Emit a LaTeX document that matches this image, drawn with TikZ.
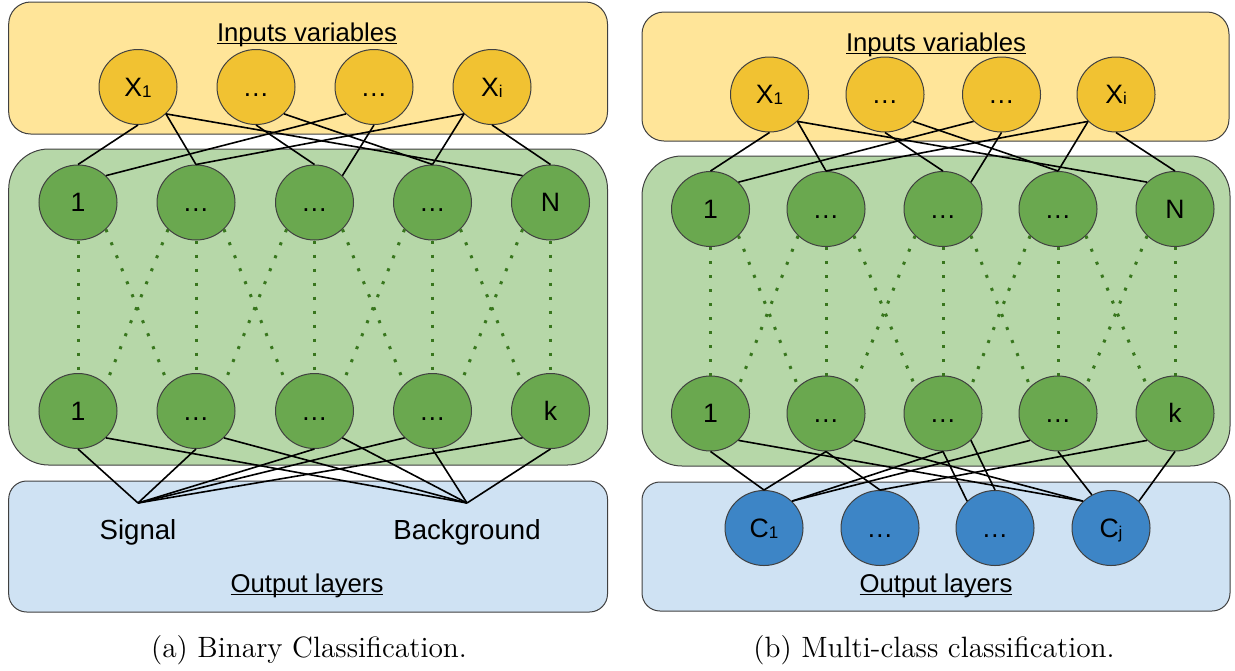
\documentclass[tikz,border=0pt]{standalone}
\usepackage{fontspec}
\newfontfamily\arialf{Liberation Sans}
\usetikzlibrary{shapes.geometric}
\definecolor{ybox}{HTML}{FFE599}
\definecolor{ynode}{HTML}{F1C232}
\definecolor{gbox}{HTML}{B6D7A8}
\definecolor{gnode}{HTML}{6AA84F}
\definecolor{gdot}{HTML}{38761D}
\definecolor{bbox}{HTML}{CFE2F3}
\definecolor{bnode}{HTML}{3D85C6}
\definecolor{edgecol}{HTML}{404040}
\newcommand{\myul}[1]{\setbox0\hbox{#1}\rlap{\rule[-1.6pt]{\wd0}{0.75pt}}\box0}
\newcommand{\sbs}[1]{{\fontsize{8.5}{8.5}\selectfont\raisebox{-0.6pt}{#1}}}
\tikzset{
  panel/.style={draw=edgecol, line width=0.5pt},
  neuron/.style={ellipse, draw=black!75, line width=0.5pt, minimum width=39pt, minimum height=37.5pt,
     inner sep=0pt, font=\arialf\fontsize{13.3}{14}\selectfont, text height=9.5pt, text depth=0.5pt},
  inn/.style={neuron, fill=ynode},
  hid/.style={neuron, fill=gnode},
  outn/.style={neuron, fill=bnode},
  link/.style={draw=black, line width=0.8pt},
  dotlink/.style={draw=gdot, line width=1.5pt, line cap=butt, dash pattern=on 1.5pt off 5.5pt},
  title/.style={anchor=base, inner sep=0pt, font=\arialf\fontsize{12.85}{14}\selectfont},
  outlabel/.style={anchor=base, inner sep=0pt, font=\arialf\fontsize{13.8}{15}\selectfont},
  caption/.style={anchor=base, inner sep=0pt, font=\fontsize{14.7}{17}\selectfont}
}
\begin{document}
\begin{tikzpicture}[x=0.5pt,y=-0.5pt]
\useasboundingbox (0,0) rectangle (1235,670);
% ================= LEFT PANEL =================
\draw[panel, fill=ybox, rounded corners=11pt] (8.7,2) rectangle (607.5,134);
\draw[panel, fill=gbox, rounded corners=20pt] (8.7,149) rectangle (607.5,465);
\draw[panel, fill=bbox, rounded corners=9pt] (8.7,481) rectangle (607.5,612);
\node[title] (ainT) at (307,41) {\myul{Inputs variables}};
\node[title] (aoutT) at (307,592) {\myul{Output layers}};
\node[caption] (capa) at (309,657) {(a) Binary Classification.};
% inputs
\node[inn] (ax1) at (138,87) {X\sbs{1}};
\node[inn] (ax2) at (256,87) {…};
\node[inn] (ax3) at (374,87) {…};
\node[inn] (ax4) at (492,87) {X\sbs{i}};
% hidden
\foreach \i/\x/\t/\b in {1/78/1/1, 2/196/…/…, 3/314.5/…/…, 4/432.5/…/…, 5/550.5/N/k}{
  \node[hid] (at\i) at (\x,202.5) {\t};
  \node[hid] (ab\i) at (\x,411) {\b};
}
% outputs
\node[outlabel] (asig) at (138,539) {Signal};
\node[outlabel] (abkg) at (467,539) {Background};
\coordinate (asigp) at (138,503);
\coordinate (abkgp) at (467,503);
% dotted
\foreach \i in {1,...,5}{ \draw[dotlink] (at\i.south) -- (ab\i.north); }
\foreach \i/\j in {1/2,2/3,3/4,4/5}{
  \draw[dotlink] (at\i.south east) -- (ab\j.north west);
  \draw[dotlink] (at\j.south west) -- (ab\i.north east);
}
% input links
\draw[link] (ax1.south) -- (at1.north);
\draw[link] (ax1.south east) -- (at2.north);
\draw[link] (ax1.south east) -- (at5.north west);
\draw[link] (ax2.south) -- (at3.north);
\draw[link] (ax2.south east) -- (at4.north);
\draw[link] (ax3.south west) -- (at1.north east);
\draw[link] (ax3.south) -- (at3.north east);
\draw[link] (ax4.south west) -- (at2.north);
\draw[link] (ax4.south west) -- (at4.north);
\draw[link] (ax4.south) -- (at5.north);
% output links
\draw[link] (ab1.south) -- (asigp);
\draw[link] (ab2.south) -- (asigp);
\draw[link] (ab3.south) -- (asigp);
\draw[link] (ab4.south west) -- (asigp);
\draw[link] (ab5.south west) -- (asigp);
\draw[link] (ab1.south east) -- (abkgp);
\draw[link] (ab2.south east) -- (abkgp);
\draw[link] (ab3.south east) -- (abkgp);
\draw[link] (ab4.south) -- (abkgp);
\draw[link] (ab5.south) -- (abkgp);
% ================= RIGHT PANEL =================
\draw[panel, fill=ybox, rounded corners=11pt] (642,12) rectangle (1229,141);
\draw[panel, fill=gbox, rounded corners=20pt] (642,156) rectangle (1230,466);
\draw[panel, fill=bbox, rounded corners=9pt] (642,482) rectangle (1230,611);
\node[title] (binT) at (936,51) {\myul{Inputs variables}};
\node[title] (boutT) at (936,592) {\myul{Output layers}};
\node[caption] (capb) at (934,657) {(b) Multi-class classification.};
\node[inn] (bx1) at (769.5,94.5) {X\sbs{1}};
\node[inn] (bx2) at (885,94.5) {…};
\node[inn] (bx3) at (1001.5,94.5) {…};
\node[inn] (bx4) at (1116,94.5) {X\sbs{i}};
\foreach \i/\x/\t/\b in {1/710.5/1/1, 2/826/…/…, 3/943/…/…, 4/1058/…/…, 5/1175/N/k}{
  \node[hid] (bt\i) at (\x,209) {\t};
  \node[hid] (bb\i) at (\x,413.5) {\b};
}
\node[outn] (bc1) at (764,528) {C\sbs{1}};
\node[outn] (bc2) at (880,528) {…};
\node[outn] (bc3) at (995,528) {…};
\node[outn] (bc4) at (1111,528) {C\sbs{j}};
\foreach \i in {1,...,5}{ \draw[dotlink] (bt\i.south) -- (bb\i.north); }
\foreach \i/\j in {1/2,2/3,3/4,4/5}{
  \draw[dotlink] (bt\i.south east) -- (bb\j.north west);
  \draw[dotlink] (bt\j.south west) -- (bb\i.north east);
}
\draw[link] (bx1.south) -- (bt1.north);
\draw[link] (bx1.south east) -- (bt2.north);
\draw[link] (bx1.south east) -- (bt5.north west);
\draw[link] (bx2.south) -- (bt3.north);
\draw[link] (bx2.south east) -- (bt4.north);
\draw[link] (bx3.south west) -- (bt1.north east);
\draw[link] (bx3.south) -- (bt3.north east);
\draw[link] (bx4.south west) -- (bt2.north);
\draw[link] (bx4.south west) -- (bt4.north);
\draw[link] (bx4.south) -- (bt5.north);
% hidden to classes
\draw[link] (bb1.south) -- (bc1.north);
\draw[link] (bb1.south east) -- (bc4.north west);
\draw[link] (bb2.south) -- (bc1.north);
\draw[link] (bb2.south) -- (bc2.north);
\draw[link] (bb2.south east) -- (bc4.north west);
\draw[link] (bb3.south) -- (bc1.north east);
\draw[link] (bb3.south) -- (bc3.north west);
\draw[link] (bb3.south east) -- (bc3.north);
\draw[link] (bb4.south west) -- (bc1.north east);
\draw[link] (bb4.south) -- (bc4.120);
\draw[link] (bb5.south west) -- (bc2.north);
\draw[link] (bb5.south) -- (bc4.north east);
\end{tikzpicture}
\end{document}
